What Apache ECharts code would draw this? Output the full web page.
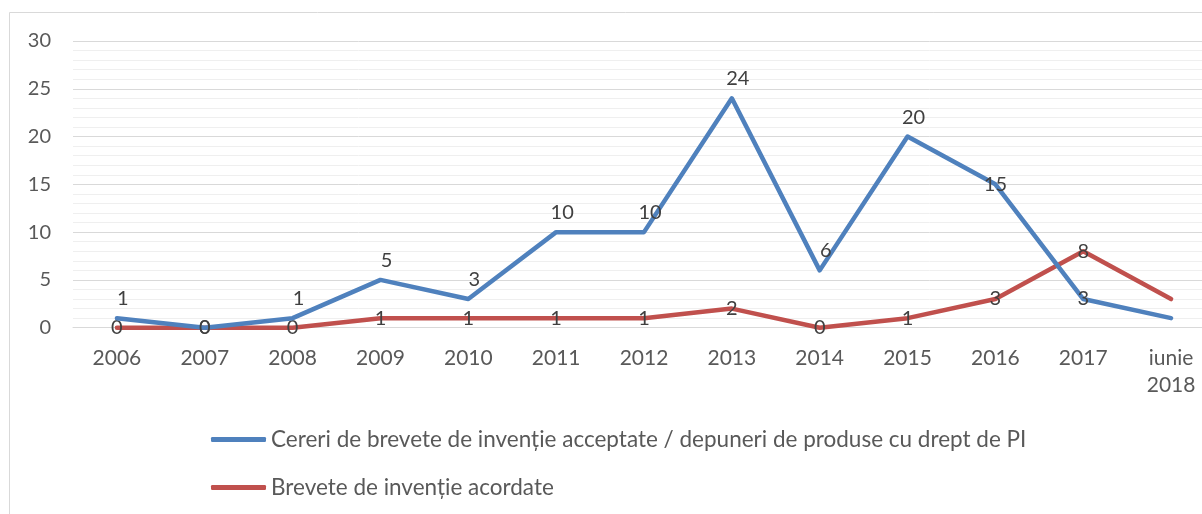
<!DOCTYPE html>
<html>
<head>
<meta charset="utf-8">
<script src="https://cdn.jsdelivr.net/npm/echarts@6/dist/echarts.min.js"></script>
<style>
  html, body { margin: 0; padding: 0; background: #fff; overflow: hidden; }
  #chart { width: 1240px; height: 514px; }
</style>
</head>
<body>
<div id="chart"></div>
<script>
// Categories (years; the last one is a partial year)
const categories = ['2006', '2007', '2008', '2009', '2010', '2011', '2012', '2013', '2014', '2015', '2016', '2017', 'iunie\n2018'];

// Series names
const seriesNames = [
  'Cereri de brevete de invenție acceptate / depuneri de produse cu drept de PI',
  'Brevete de invenție acordate'
];

// Values per category
const applications = [1, 0, 1, 5, 3, 10, 10, 24, 6, 20, 15, 3, 1];
const granted = [0, 0, 0, 1, 1, 1, 1, 2, 0, 1, 3, 8, 3];

// Y axis ticks
const yTicks = [0, 5, 10, 15, 20, 25, 30];

const FONT = 'Lato, "Open Sans", sans-serif';
const BLUE = '#4f81bd';
const RED = '#c0504d';

// Labels for the last category are not shown; some blue labels sit on their points
const lastIndex = categories.length - 1;
const blueCentered = new Set(['2007', '2016', '2017']);

function buildData(values, centeredSet, defaultPos) {
  return values.map((v, i) => {
    const cat = categories[i];
    if (i === lastIndex) return { value: v, label: { show: false } };
    if (defaultPos === 'inside' || centeredSet.has(cat)) {
      return { value: v, label: { position: 'inside', offset: [0, 0] } };
    }
    return { value: v };
  });
}

const chart = echarts.init(document.getElementById('chart'), null, { renderer: 'canvas' });

const labelBase = {
  show: true,
  fontFamily: FONT,
  fontSize: 20,
  color: '#404040'
};

chart.setOption({
  animation: false,
  backgroundColor: '#ffffff',
  graphic: [{
    type: 'rect',
    shape: { x: 9.5, y: 12.5, width: 1300, height: 600 },
    style: { fill: 'none', stroke: '#d9d9d9', lineWidth: 1 },
    silent: true,
    z: -10
  }],
  grid: {
    left: 73,
    top: 41,
    width: 1142,
    height: 286.7,
    containLabel: false
  },
  legend: {
    orient: 'vertical',
    left: 206,
    top: 423,
    padding: 5,
    itemWidth: 55,
    itemHeight: 5,
    itemGap: 25,
    icon: 'roundRect',
    textStyle: { fontFamily: FONT, fontSize: 22.5, color: '#595959' },
    data: seriesNames
  },
  xAxis: {
    type: 'category',
    data: categories,
    boundaryGap: true,
    axisLine: { lineStyle: { color: '#d9d9d9', width: 1 } },
    axisTick: { show: false },
    axisLabel: {
      interval: 0,
      margin: 17,
      fontFamily: FONT,
      fontSize: 21,
      lineHeight: 27,
      color: '#595959'
    },
    splitLine: { show: false }
  },
  yAxis: {
    type: 'value',
    min: yTicks[0],
    max: yTicks[yTicks.length - 1],
    interval: 5,
    axisLine: { show: false },
    axisTick: { show: false },
    axisLabel: {
      margin: 22,
      fontFamily: FONT,
      fontSize: 20,
      color: '#595959'
    },
    splitLine: { lineStyle: { color: '#d9d9d9', width: 1 } },
    minorTick: { show: false, splitNumber: 5 },
    minorSplitLine: { show: true, lineStyle: { color: '#efefef', width: 1 } }
  },
  series: [
    {
      name: seriesNames[0],
      type: 'line',
      data: buildData(applications, blueCentered, 'top'),
      symbol: 'circle',
      symbolSize: 1,
      itemStyle: { color: BLUE },
      lineStyle: { color: BLUE, width: 4.5, cap: 'round', join: 'round' },
      label: Object.assign({}, labelBase, { position: 'top', distance: 9, offset: [6, 0] }),
      z: 3
    },
    {
      name: seriesNames[1],
      type: 'line',
      data: buildData(granted, new Set(), 'inside'),
      symbol: 'circle',
      symbolSize: 1,
      itemStyle: { color: RED },
      lineStyle: { color: RED, width: 4.5, cap: 'round', join: 'round' },
      label: Object.assign({}, labelBase, { position: 'inside' }),
      z: 2
    }
  ]
});
</script>
</body>
</html>
